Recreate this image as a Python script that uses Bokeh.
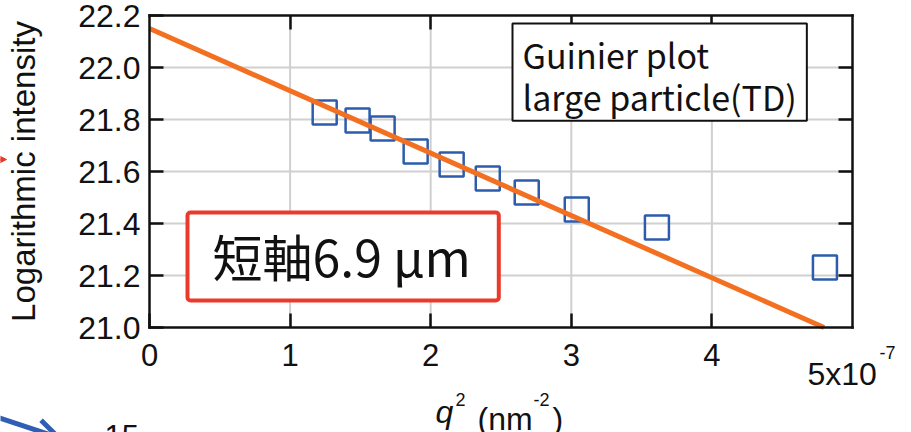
from bokeh.plotting import figure
from bokeh.models import (Range1d, FixedTicker, LinearAxis, NumeralTickFormatter,
                          Label, Arrow, NormalHead, OpenHead)
from bokeh.embed import file_html
from bokeh.resources import INLINE

# Guinier data: q^2 (x 1e-7 nm^-2) against ln(I)
q2 = [1.246, 1.480, 1.658, 1.893, 2.149, 2.406, 2.683, 3.039, 3.609, 4.804]
ln_intensity = [21.827, 21.796, 21.765, 21.677, 21.627, 21.573, 21.519, 21.454, 21.385, 21.231]

# Linear Guinier fit: ln(I) = intercept + slope * q^2
fit_intercept = 22.15
fit_slope = -0.2397

x_ticks = [0, 1, 2, 3, 4]
x_inner_ticks = [1, 2, 3, 4]
y_ticks = [21.0, 21.2, 21.4, 21.6, 21.8, 22.0, 22.2]
y_inner_ticks = [21.2, 21.4, 21.6, 21.8, 22.0]

X0, X1 = 0.0, 5.0
Y0, Y1 = 21.0, 22.2

W, H = 911, 432
FL, FR, FT, FB = 149, 852, 15, 327   # plot box edges in canvas pixels


def px_x(px):
    return X0 + (px - FL) * (X1 - X0) / (FR - FL)


def px_y(py):
    return Y1 - (py - FT) * (Y1 - Y0) / (FB - FT)


TICK_FONT = "Liberation Sans"
BOX_FONT = "Noto Sans CJK JP"
BLACK = "#111111"

# The frame spans the whole canvas; the axes are pinned to the plot box edges
# so that text around the box can be placed freely.
p = figure(width=W, height=H, output_backend="svg", toolbar_location=None,
           x_range=Range1d(px_x(0), px_x(W)), y_range=Range1d(px_y(H), px_y(0)),
           min_border=0)
p.outline_line_color = None
p.background_fill_color = "white"
p.border_fill_color = "white"
p.grid.visible = False


def style_axis(ax, ticks, bounds, location, show_labels=True):
    ax.ticker = FixedTicker(ticks=ticks)
    ax.bounds = bounds
    ax.fixed_location = location
    ax.axis_line_color = BLACK
    ax.axis_line_width = 2.5
    ax.axis_line_cap = "square"
    ax.major_tick_line_color = BLACK
    ax.major_tick_line_width = 2.5
    ax.major_tick_in = 14
    ax.major_tick_out = 0
    ax.minor_tick_line_color = None
    if show_labels:
        ax.major_label_text_font = TICK_FONT
        ax.major_label_text_color = BLACK
    else:
        ax.major_label_text_color = None


xax = p.xaxis[0]
style_axis(xax, x_ticks, (X0, X1), Y0)
xax.major_label_text_font_size = "31px"
xax.major_label_standoff = 16

yax = p.yaxis[0]
style_axis(yax, y_ticks, (Y0, Y1), X0)
yax.formatter = NumeralTickFormatter(format="0.0")
yax.major_label_text_font_size = "32px"
yax.major_label_standoff = 9
yax.axis_label = "Logarithmic intensity"
yax.axis_label_text_font = TICK_FONT
yax.axis_label_text_font_style = "normal"
yax.axis_label_text_font_size = "33px"
yax.axis_label_text_color = BLACK
yax.axis_label_standoff = 33

top_ax = LinearAxis()
style_axis(top_ax, x_inner_ticks, (X0, X1), Y1, show_labels=False)
p.add_layout(top_ax, "above")
right_ax = LinearAxis()
style_axis(right_ax, y_inner_ticks, (Y0, Y1), X1, show_labels=False)
p.add_layout(right_ax, "right")

# grid lines inside the plot box
GRID = dict(line_color="#d0d0d0", line_width=2)
p.segment(x0=x_inner_ticks, y0=[Y0] * len(x_inner_ticks),
          x1=x_inner_ticks, y1=[Y1] * len(x_inner_ticks), **GRID)
p.segment(x0=[X0] * len(y_inner_ticks), y0=y_inner_ticks,
          x1=[X1] * len(y_inner_ticks), y1=y_inner_ticks, **GRID)

# measured points
p.scatter(q2, ln_intensity, marker="square", size=24, fill_color=None,
          line_color="#2c5cab", line_width=2.5)

# fitted line, from q^2 = 0 down to the bottom of the plot box
x_end = (Y0 - fit_intercept) / fit_slope
p.line([0, x_end], [fit_intercept, fit_intercept + fit_slope * x_end],
       line_color="#f37021", line_width=5)


def text(txt, xp, yp, size, style="normal", font=TICK_FONT):
    # yp is the wanted baseline; the label box sits about 0.31 em lower
    p.add_layout(Label(x=px_x(xp), y=px_y(yp - 0.31 * size), text=txt, text_font=font,
                       text_font_size=f"{size}px", text_font_style=style,
                       text_color=BLACK, text_align="left", text_baseline="alphabetic"))


# axis multiplier for the x ticks
text("5x10", 807, 383, 32)
text("-7", 879, 358, 18)

# x axis title: q^2 (nm^-2)
text("q", 435, 421, 32, "italic")
text("2", 455, 405, 18)
text("(nm", 477, 428, 32)
text("-2", 533, 405, 18)
text(")", 552, 428, 32)

# caption box
p.add_layout(Label(x=px_x(512), y=px_y(23), text="Guinier plot\nlarge particle(TD)",
                   text_font=BOX_FONT, text_font_size="34px",
                   text_line_height=0.86, text_color=BLACK,
                   text_align="left", text_baseline="top",
                   background_fill_color="white", border_line_color=BLACK,
                   border_line_width=2,
                   padding=dict(left=10, right=10, top=6, bottom=0)))

# highlighted result box
p.add_layout(Label(x=px_x(187), y=px_y(212), text="短軸6.9 μm",
                   text_font=BOX_FONT, text_font_size="50px",
                   text_color=BLACK, text_align="left", text_baseline="top",
                   background_fill_color="white", border_line_color="#ea3a2c",
                   border_line_width=4, border_radius=3,
                   padding=dict(left=25, right=28, top=6, bottom=10)))

# arrows and page number from the surrounding slide
p.add_layout(Arrow(end=NormalHead(size=12, fill_color="#e8392b", line_color="#e8392b"),
                   x_start=px_x(-40), y_start=px_y(159), x_end=px_x(6), y_end=px_y(159),
                   line_color="#e8392b", line_width=3))
p.add_layout(Arrow(end=OpenHead(size=22, line_color="#2f5fb5", line_width=5),
                   x_start=px_x(-30), y_start=px_y(408), x_end=px_x(58), y_end=px_y(437),
                   line_color="#2f5fb5", line_width=5))
text("15", 104, 445, 31)

open("out.html", "w").write(file_html(p, INLINE))
